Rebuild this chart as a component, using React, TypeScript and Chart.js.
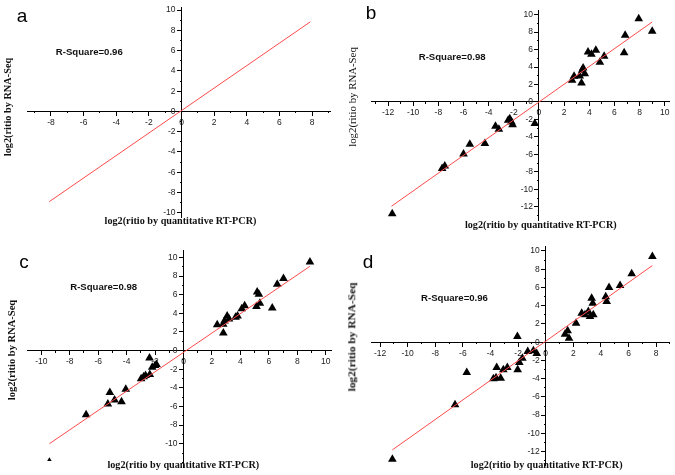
import React, { useEffect, useRef } from 'react';
import { Chart, registerables } from 'chart.js';
Chart.register(...registerables);

// ---------- data ----------
const panelLetters = ['a', 'b', 'c', 'd'];
const rSquareLabels = ['R-Square=0.96', 'R-Square=0.98', 'R-Square=0.98', 'R-Square=0.96'];
const xTitle = 'log2(ritio by quantitative RT-PCR)';
const yTitle = 'log2(ritio by RNA-Seq';

// panel a (fit line only)
const aPointsX: number[] = [];
const aPointsY: number[] = [];
const aFitX = [-8.1, 7.9];
const aFitY = [-8.9, 8.85];
const aXTicks = [-8, -6, -4, -2, 0, 2, 4, 6, 8];
const aYTicks = [-10, -8, -6, -4, -2, 0, 2, 4, 6, 8, 10];

// panel b
const bPointsX = [7.93, 9.0, 6.85, 6.77, 3.9, 4.17, 4.52, 5.18, 4.84, 3.51, 3.43, 3.64, 3.24, 3.38, 2.79, 2.63,
  -0.33, -2.32, -2.45, -2.19, -2.1, -3.46, -3.19, -4.3, -5.5, -6.0, -7.49, -7.7, -11.67];
const bPointsY = [9.54, 8.09, 7.63, 5.65, 5.73, 5.46, 5.92, 5.23, 4.54, 3.89, 3.63, 3.24, 2.98, 2.18, 2.94, 2.48,
  -2.48, -1.91, -2.1, -2.29, -2.6, -2.79, -3.13, -4.77, -4.85, -5.95, -7.33, -7.63, -12.79];
const bFitX = [-11.73, 9.0];
const bFitY = [-11.95, 9.16];
const bXTicks = [-12, -10, -8, -6, -4, -2, 0, 2, 4, 6, 8, 10];
const bYTicks = [-12, -10, -8, -6, -4, -2, 0, 2, 4, 6, 8, 10];

// panel c
const cPointsX = [8.89, 7.03, 6.59, 5.18, 5.3, 5.13, 5.37, 6.24, 4.1, 4.3, 3.66, 3.07, 3.2, 2.88, 2.79, 2.37, 2.8, 3.8,
  -2.39, -2.2, -2.0, -1.9, -2.37, -2.67, -2.98, -2.8, -4.06, -5.18, -4.85, -5.32, -4.36, -6.85, -9.43];
const cPointsY = [9.51, 7.75, 7.11, 6.3, 6.06, 4.72, 5.07, 4.58, 4.5, 4.8, 3.59, 3.7, 3.4, 3.17, 2.82, 2.78, 1.9, 3.7,
  -0.81, -1.8, -1.6, -1.5, -2.57, -2.68, -3.03, -2.8, -4.15, -4.5, -5.32, -5.74, -5.49, -6.9, -11.73];
const cFitX = [-9.43, 8.89];
const cFitY = [-10.0, 9.05];
const cXTicks = [-10, -8, -6, -4, -2, 0, 2, 4, 6, 8, 10];
const cYTicks = [-10, -8, -6, -4, -2, 0, 2, 4, 6, 8, 10];

// panel d
const dPointsX = [7.73, 6.23, 5.39, 4.59, 4.35, 4.42, 3.33, 3.41, 3.45, 3.09, 3.21, 2.85, 2.61, 2.2, 1.59, 1.4, 1.69,
  -2.05, -1.3, -0.89, -0.65, -1.69, -1.91, -2.03, -2.78, -3.07, -3.55, -3.26, -3.79, -3.6, -5.72, -6.57, -11.11];
const dPointsY = [9.39, 7.49, 6.21, 5.99, 4.97, 4.46, 4.82, 4.28, 3.0, 3.36, 2.81, 3.0, 3.18, 2.08, 1.24, 0.88, 0.44,
  0.62, -1.02, -0.95, -1.24, -1.75, -2.23, -3.03, -2.78, -3.03, -2.78, -3.95, -4.02, -3.9, -3.33, -6.87, -12.83];
const dFitX = [-11.11, 7.73];
const dFitY = [-11.81, 8.4];
const dXTicks = [-12, -10, -8, -6, -4, -2, 0, 2, 4, 6, 8];
const dYTicks = [-12, -10, -8, -6, -4, -2, 0, 2, 4, 6, 8, 10];

// ---------- layout (page pixels) ----------
type Panel = {
  px: number[]; py: number[]; fx: number[]; fy: number[];
  xt: number[]; yt: number[];
  xMin: number; xMax: number; yMin: number; yMax: number;
  area: { left: number; right: number; top: number; bottom: number };
  letter: [number, number]; rsq: [number, number]; yt2: [number, number]; xt2: [number, number];
  yBold: boolean; yTitleSize: number; smallLast: boolean;
};

const W = 675;
const H = 475;

const panels: Panel[] = [
  {
    px: aPointsX, py: aPointsY, fx: aFitX, fy: aFitY, xt: aXTicks, yt: aYTicks,
    xMin: -9.45, xMax: 9.1, yMin: -10.5, yMax: 10.3,
    area: { left: 27.3, right: 330, top: 6.25, bottom: 217.8 },
    letter: [22, 15], rsq: [89.3, 52.3], yt2: [7.5, 107], xt2: [180.5, 221], yBold: true, yTitleSize: 10.3, smallLast: false,
  },
  {
    px: bPointsX, py: bPointsY, fx: bFitX, fy: bFitY, xt: bXTicks, yt: bYTicks,
    xMin: -13.3, xMax: 10.4, yMin: -13.6, yMax: 10.5,
    area: { left: 371.7, right: 669.8, top: 10.3, bottom: 220.7 },
    letter: [371, 11.7], rsq: [452.2, 56.7], yt2: [352, 96.7], xt2: [540.8, 225.3], yBold: false, yTitleSize: 10.8, smallLast: false,
  },
  {
    px: cPointsX, py: cPointsY, fx: cFitX, fy: cFitY, xt: cXTicks, yt: cYTicks,
    xMin: -10.95, xMax: 10.4, yMin: -12.6, yMax: 10.8,
    area: { left: 27.8, right: 331.4, top: 250.0, bottom: 471.6 },
    letter: [24, 261], rsq: [103.7, 286.7], yt2: [12, 350], xt2: [183.3, 465], yBold: true, yTitleSize: 10.5, smallLast: true,
  },
  {
    px: dPointsX, py: dPointsY, fx: dFitX, fy: dFitY, xt: dXTicks, yt: dYTicks,
    xMin: -12.6, xMax: 9.0, yMin: -13.5, yMax: 10.5,
    area: { left: 371.8, right: 669.9, top: 246.4, bottom: 465.3 },
    letter: [368, 260.5], rsq: [454.5, 298.3], yt2: [352, 336.7], xt2: [546.7, 465], yBold: true, yTitleSize: 11.4, smallLast: false,
  },
];

const tickFont = { family: '"Liberation Sans", Arial, sans-serif', size: 8.5 };
const tickColor = '#222';
const Y_LABEL_GAP = 6;

function minorTicks(min: number, max: number, major: number[]) {
  const out: { value: number }[] = [];
  for (let v = Math.ceil(min); v <= Math.floor(max); v++) {
    if (!major.includes(v)) out.push({ value: v });
  }
  return out;
}

// y labels on a value-positioned axis are right-aligned exactly on the axis line; move them left of the ticks
const shiftYLabels = {
  id: 'shiftYLabels',
  beforeDraw(chart: any) {
    const s = chart.scales.y;
    if (!s) return;
    const items = s.getLabelItems(chart.chartArea);
    if (items && !items.__shifted) {
      items.forEach((it: any) => { it.options.translation[0] -= Y_LABEL_GAP; });
      items.__shifted = true;
    }
  },
};

function buildConfig(p: Panel): any {
  const majorAxis = (isX: boolean) => ({
    type: 'linear',
    axis: isX ? 'x' : 'y',
    min: isX ? p.xMin : p.yMin,
    max: isX ? p.xMax : p.yMax,
    position: isX ? { y: 0 } : { x: 0 },
    afterBuildTicks: (s: any) => { s.ticks = (isX ? p.xt : p.yt).map((v) => ({ value: v })); },
    border: { display: true, color: '#000', width: 1 },
    grid: { display: true, drawOnChartArea: false, drawTicks: true, tickLength: 4, tickColor: '#000', tickWidth: 1 },
    ticks: { padding: 2, color: tickColor, font: tickFont, autoSkip: false, maxRotation: 0, callback: (v: any) => String(v) },
  });
  const minorAxis = (isX: boolean) => ({
    type: 'linear',
    axis: isX ? 'x' : 'y',
    min: isX ? p.xMin : p.yMin,
    max: isX ? p.xMax : p.yMax,
    position: isX ? { y: 0 } : { x: 0 },
    afterBuildTicks: (s: any) => {
      s.ticks = isX ? minorTicks(p.xMin, p.xMax, p.xt) : minorTicks(p.yMin, p.yMax, p.yt);
    },
    border: { display: false },
    grid: { display: true, drawOnChartArea: false, drawTicks: true, tickLength: 2, tickColor: '#000', tickWidth: 1 },
    ticks: { padding: 0, autoSkip: false, maxRotation: 0, font: tickFont, callback: () => '' },
  });
  const pts = p.px.map((x, i) => ({ x, y: p.py[i] }));
  const fit = p.fx.map((x, i) => ({ x, y: p.fy[i] }));
  const nPts = pts.length;
  return {
    type: 'scatter',
    data: {
      datasets: [
        {
          data: fit, showLine: true, borderColor: '#ff4a4a', borderWidth: 1, pointRadius: 0,
          backgroundColor: '#ff4a4a', order: 1, clip: false,
        },
        {
          data: pts, pointStyle: 'triangle', backgroundColor: '#000', borderColor: '#000', borderWidth: 0,
          pointRadius: (ctx: any) => (p.smallLast && ctx.dataIndex === nPts - 1 ? 2.6 : 5), order: 2, clip: false,
        },
      ],
    },
    plugins: [shiftYLabels],
    options: {
      animation: false,
      responsive: false,
      devicePixelRatio: 1,
      events: [],
      layout: {
        padding: { left: p.area.left, right: W - p.area.right, top: p.area.top, bottom: H - p.area.bottom },
      },
      plugins: { legend: { display: false }, tooltip: { enabled: false }, title: { display: false } },
      scales: {
        x: majorAxis(true),
        y: majorAxis(false),
        xm: minorAxis(true),
        ym: minorAxis(false),
      },
    },
  };
}

function PanelChart({ p }: { p: Panel }) {
  const ref = useRef<HTMLCanvasElement | null>(null);
  useEffect(() => {
    if (!ref.current) return;
    const chart = new Chart(ref.current, buildConfig(p));
    return () => chart.destroy();
  }, [p]);
  return (
    <canvas ref={ref} width={W} height={H}
      style={{ position: 'absolute', left: 0, top: 0, width: W, height: H, pointerEvents: 'none' }} />
  );
}

const centered = (x: number, y: number, extra: React.CSSProperties = {}): React.CSSProperties => ({
  position: 'absolute', left: x, top: y, transform: 'translate(-50%, -50%)', whiteSpace: 'nowrap', lineHeight: 1, ...extra,
});

export default function App() {
  return (
    <div style={{ position: 'absolute', left: 0, top: 0, width: W, height: H, background: '#fff', overflow: 'hidden' }}>
      {panels.map((p, i) => (
        <React.Fragment key={i}>
          <PanelChart p={p} />
          <div style={centered(p.letter[0], p.letter[1], { fontFamily: '"Liberation Sans", Arial, sans-serif', fontSize: 19, color: '#000' })}>
            {panelLetters[i]}
          </div>
          <div style={centered(p.rsq[0], p.rsq[1], { fontFamily: '"Liberation Sans", Arial, sans-serif', fontSize: 9.6, fontWeight: 'bold', color: '#111' })}>
            {rSquareLabels[i]}
          </div>
          <div style={centered(p.xt2[0], p.xt2[1], { fontFamily: '"Liberation Serif", "Times New Roman", serif', fontSize: 10.2, fontWeight: 'bold', color: '#111' })}>
            {xTitle}
          </div>
          <div style={centered(p.yt2[0], p.yt2[1], {
            fontFamily: '"Liberation Serif", "Times New Roman", serif', fontSize: p.yTitleSize,
            fontWeight: p.yBold ? 'bold' : 'normal', color: '#111', transform: 'translate(-50%, -50%) rotate(-90deg)',
          })}>
            {yTitle}
          </div>
        </React.Fragment>
      ))}
    </div>
  );
}
